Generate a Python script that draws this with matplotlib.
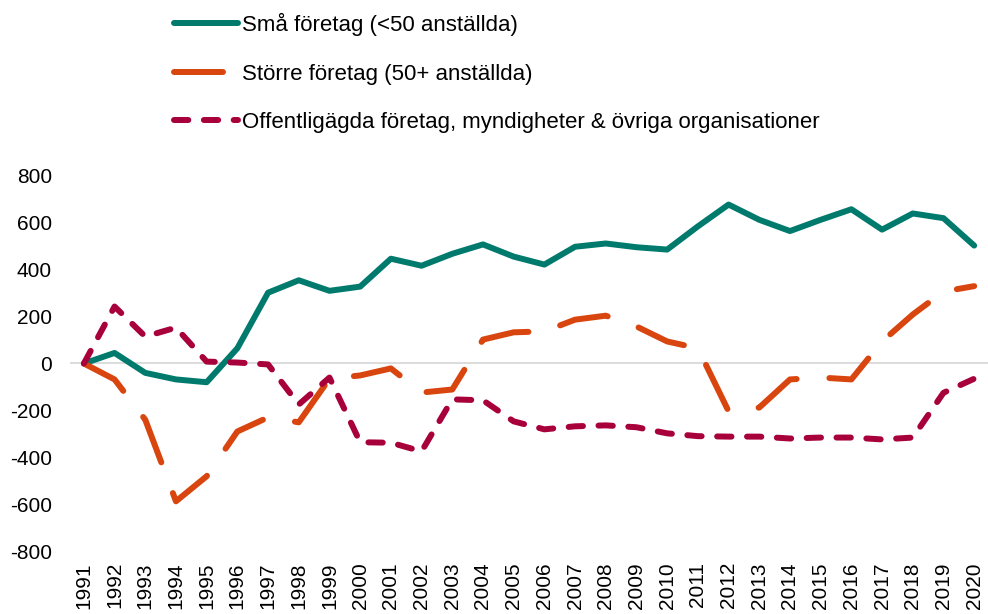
import numpy as np
import matplotlib.pyplot as plt
from matplotlib import rcParams

rcParams['font.family'] = ['Liberation Sans', 'DejaVu Sans']
rcParams['font.size'] = 15
rcParams['axes.unicode_minus'] = False

years = np.arange(1991, 2021)

# Netto per år, tre grupper
sma = [0, 45, -40, -68, -80, 65, 302, 355, 310, 328,
       447, 417, 468, 508, 456, 422, 498, 512, 496, 486,
       585, 678, 613, 565, 613, 658, 571, 640, 620, 503]
storre = [0, -68, -240, -588, -481, -290, -230, -251, -65, -51,
          -21, -124, -111, 102, 133, 137, 187, 204, 158, 94,
          65, -204, -188, -68, -60, -68, 94, 209, 307, 330]
offentliga = [0, 243, 115, 153, 8, 4, -4, -175, -60, -336,
              -338, -375, -153, -157, -247, -281, -268, -264, -272, -298,
              -310, -312, -312, -320, -316, -316, -324, -316, -125, -65]

labels = ['Små företag (<50 anställda)',
          'Större företag (50+ anställda)',
          'Offentligägda företag, myndigheter & övriga organisationer']

fig = plt.figure(figsize=(9.88, 6.14), dpi=100)
ax = fig.add_axes([0.0709, 0.1026, 0.9291, 0.6108])

lw = 4.3
ax.axhline(0, color='#d9d9d9', lw=1.3, zorder=1)
ax.plot(years, sma, color='#007a6c', lw=lw, solid_capstyle='round',
        solid_joinstyle='round', label=labels[0], zorder=3)
ax.plot(years, storre, color='#d9450e', lw=lw, dashes=(8.2, 5.5),
        dash_capstyle='round', dash_joinstyle='round', label=labels[1], zorder=3)
ax.plot(years, offentliga, color='#a8003b', lw=lw, dashes=(2.4, 2.6),
        dash_capstyle='round', dash_joinstyle='round', label=labels[2], zorder=3)

ax.set_xlim(1990.55, 2020.45)
ax.set_ylim(-800, 800)
ax.set_yticks(np.arange(-800, 801, 200))
ax.set_xticks(years)
ax.set_xticklabels([str(y) for y in years], rotation=90)
ax.tick_params(axis='both', length=0, labelsize=15)
ax.tick_params(axis='y', pad=13)
ax.tick_params(axis='x', pad=8)
for s in ax.spines.values():
    s.set_visible(False)

fig.legend(loc='upper left', bbox_to_anchor=(174 / 988, 1 - 13 / 614),
           frameon=False, borderpad=0, borderaxespad=0, handlelength=2.9,
           handletextpad=0.15, labelspacing=1.24, fontsize=16)

plt.savefig('out.png', dpi=100)
plt.close()
